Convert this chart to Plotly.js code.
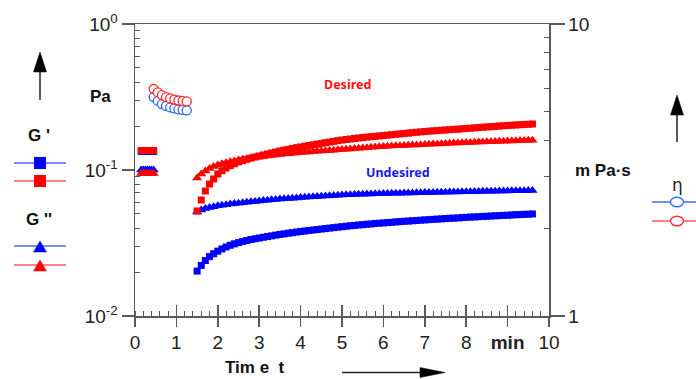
<!DOCTYPE html>
<html>
<head>
<meta charset="utf-8">
<script src="https://cdn.plot.ly/plotly-3.0.1.min.js"></script>
<style>html,body{margin:0;padding:0;background:#fff;}#chart{width:696px;height:379px;}</style>
</head>
<body>
<div id="chart"></div>
<script>
// ---------- data ----------
// early measurement block (min)
const tEarly = [0.15, 0.2, 0.25, 0.3, 0.35, 0.4, 0.45];
const gpUndEarly = [0.134, 0.134, 0.134, 0.134, 0.134, 0.134, 0.134];   // G' undesired, Pa
const gpDesEarly = [0.136, 0.136, 0.136, 0.136, 0.136, 0.136, 0.136];   // G' desired, Pa
const gppUndEarly = [0.100, 0.100, 0.100, 0.100, 0.100, 0.100, 0.100];  // G'' undesired, Pa
const gppDesEarly = [0.0946, 0.0946, 0.0946, 0.0946, 0.0946, 0.0946, 0.0946]; // G'' desired, Pa

// viscosity block (min, mPa·s)
const tEta = [0.45, 0.55, 0.65, 0.75, 0.85, 0.95, 1.05, 1.15, 1.25];
const etaUnd = [5.62, 5.45, 5.32, 5.24, 5.18, 5.14, 5.10, 5.08, 5.06];
const etaDes = [5.99, 5.83, 5.71, 5.62, 5.56, 5.51, 5.47, 5.45, 5.43];

// main time sweep (min)
const tMain = [1.5,1.6,1.7,1.8,1.9,2.0,2.1,2.2,2.3,2.4,2.5,2.6,2.7,2.8,2.9,3.0,3.1,3.2,3.3,3.4,3.5,3.6,3.7,3.8,3.9,4.0,4.1,4.2,4.3,4.4,4.5,4.6,4.7,4.8,4.9,5.0,5.1,5.2,5.3,5.4,5.5,5.6,5.7,5.8,5.9,6.0,6.1,6.2,6.3,6.4,6.5,6.6,6.7,6.8,6.9,7.0,7.1,7.2,7.3,7.4,7.5,7.6,7.7,7.8,7.9,8.0,8.1,8.2,8.3,8.4,8.5,8.6,8.7,8.8,8.9,9.0,9.1,9.2,9.3,9.4,9.5,9.6];
const gpUnd = [0.0203,0.0222,0.0240,0.0255,0.0267,0.0278,0.0288,0.0297,0.0305,0.0312,0.0318,0.0324,0.0329,0.0334,0.0338,0.0342,0.0346,0.0350,0.0354,0.0358,0.0362,0.0365,0.0369,0.0372,0.0376,0.0379,0.0382,0.0385,0.0388,0.0391,0.0394,0.0397,0.0400,0.0403,0.0406,0.0409,0.0412,0.0415,0.0417,0.0420,0.0422,0.0425,0.0427,0.0430,0.0432,0.0434,0.0436,0.0438,0.0441,0.0443,0.0445,0.0447,0.0449,0.0451,0.0453,0.0455,0.0457,0.0459,0.0461,0.0463,0.0465,0.0467,0.0468,0.0470,0.0472,0.0474,0.0476,0.0477,0.0479,0.0481,0.0482,0.0484,0.0486,0.0487,0.0489,0.0490,0.0492,0.0494,0.0495,0.0497,0.0498,0.0500];
const gppUnd = [0.0516,0.0533,0.0545,0.0554,0.0561,0.0568,0.0574,0.0579,0.0584,0.0589,0.0593,0.0597,0.0601,0.0605,0.0609,0.0613,0.0617,0.0621,0.0625,0.0629,0.0632,0.0635,0.0638,0.0641,0.0644,0.0647,0.0650,0.0653,0.0656,0.0659,0.0661,0.0664,0.0667,0.0669,0.0672,0.0674,0.0676,0.0677,0.0679,0.0681,0.0682,0.0684,0.0685,0.0687,0.0688,0.0690,0.0691,0.0692,0.0693,0.0694,0.0695,0.0696,0.0697,0.0698,0.0699,0.0700,0.0701,0.0702,0.0703,0.0704,0.0705,0.0706,0.0707,0.0708,0.0709,0.0710,0.0711,0.0712,0.0713,0.0714,0.0714,0.0715,0.0716,0.0717,0.0718,0.0719,0.0720,0.0720,0.0721,0.0722,0.0723,0.0724];
const gpDes = [0.0524,0.0623,0.0718,0.0802,0.0868,0.0939,0.0988,0.1032,0.1070,0.1104,0.1135,0.1160,0.1183,0.1205,0.1226,0.1247,0.1268,0.1288,0.1308,0.1328,0.1349,0.1367,0.1385,0.1403,0.1421,0.1438,0.1455,0.1471,0.1488,0.1504,0.1520,0.1537,0.1554,0.1571,0.1588,0.1604,0.1617,0.1630,0.1644,0.1657,0.1670,0.1680,0.1691,0.1701,0.1712,0.1722,0.1733,0.1744,0.1756,0.1767,0.1778,0.1790,0.1801,0.1813,0.1824,0.1836,0.1845,0.1853,0.1862,0.1870,0.1879,0.1888,0.1897,0.1905,0.1914,0.1923,0.1933,0.1943,0.1953,0.1962,0.1972,0.1981,0.1990,0.2000,0.2009,0.2018,0.2026,0.2034,0.2042,0.2049,0.2057,0.2065];
const gppDes = [0.0882,0.0939,0.0985,0.1024,0.1055,0.1082,0.1102,0.1120,0.1137,0.1154,0.1171,0.1183,0.1195,0.1206,0.1217,0.1227,0.1237,0.1247,0.1257,0.1267,0.1277,0.1285,0.1293,0.1302,0.1310,0.1318,0.1324,0.1330,0.1337,0.1343,0.1349,0.1355,0.1362,0.1368,0.1375,0.1381,0.1388,0.1395,0.1401,0.1408,0.1415,0.1422,0.1429,0.1435,0.1442,0.1449,0.1454,0.1458,0.1463,0.1467,0.1472,0.1477,0.1481,0.1486,0.1490,0.1495,0.1500,0.1505,0.1509,0.1514,0.1519,0.1524,0.1529,0.1533,0.1538,0.1543,0.1546,0.1550,0.1553,0.1557,0.1560,0.1564,0.1568,0.1572,0.1576,0.1580,0.1583,0.1587,0.1590,0.1593,0.1597,0.1600];

// tick labels
const xTickVals = [0,1,2,3,4,5,6,7,8,9,10];
const xTickText = ['0','1','2','3','4','5','6','7','8','<b>min</b>','10'];
const yTickVals = [0.01, 0.1, 1];
const yTickText = ['10<sup>-2</sup>','10<sup>-1</sup>','10<sup>0</sup>'];
const y2TickVals = [1, 10];
const y2TickText = ['1','10'];

// ---------- styling ----------
const BLUE = '#0000ff', RED = '#ff0000';
const BLUE_C = '#2f6bff', RED_C = '#ff2a2a';
const AX = '#5a5a5a';
const FONT = 'Liberation Sans, Arial, sans-serif';

function sq(color){ return {symbol:'square', size:7, color:color, line:{width:0}}; }
function tri(color){ return {symbol:'triangle-up', size:9, color:color, line:{width:0}}; }
function circ(color){ return {symbol:'circle', size:9, color:'#ffffff', line:{width:1.3, color:color}}; }

const traces = [
  {x: tEarly.concat(tMain), y: gpUndEarly.concat(gpUnd), mode:'markers', marker: sq(BLUE), xaxis:'x', yaxis:'y'},
  {x: tEarly.concat(tMain), y: gppUndEarly.concat(gppUnd), mode:'markers', marker: tri(BLUE), xaxis:'x', yaxis:'y'},
  {x: tEarly.concat(tMain), y: gppDesEarly.concat(gppDes), mode:'markers', marker: tri(RED), xaxis:'x', yaxis:'y'},
  {x: tEarly.concat(tMain), y: gpDesEarly.concat(gpDes), mode:'markers', marker: sq(RED), xaxis:'x', yaxis:'y'},
  {x: tEta, y: etaUnd, mode:'markers', marker: circ(BLUE_C), xaxis:'x', yaxis:'y2'},
  {x: tEta, y: etaDes, mode:'markers', marker: circ(RED_C), xaxis:'x', yaxis:'y2'},
  {x: [], y: [], mode:'markers', xaxis:'x2', yaxis:'y', hoverinfo:'skip'}
];

// pixel -> paper helpers for decorations
const PL = 135, PR = 549, PT = 24, PB = 316;
const X = px => (px - PL) / (PR - PL);
const Y = py => (PB - py) / (PB - PT);

function hline(x0, x1, y, color){
  return {type:'line', xref:'paper', yref:'paper', x0:X(x0), x1:X(x1), y0:Y(y), y1:Y(y), line:{color:color, width:1.3}};
}
function vline(x, y0, y1, color){
  return {type:'line', xref:'paper', yref:'paper', x0:X(x), x1:X(x), y0:Y(y0), y1:Y(y1), line:{color:color, width:1.5}};
}
function poly(pts, color){
  const d = pts.map((p,i)=> (i?'L':'M') + X(p[0]) + ',' + Y(p[1])).join(' ') + ' Z';
  return {type:'path', xref:'paper', yref:'paper', path:d, fillcolor:color, line:{color:color, width:0.5}};
}
function rect(cx, cy, w, h, color){
  return {type:'rect', xref:'paper', yref:'paper', x0:X(cx-w/2), x1:X(cx+w/2), y0:Y(cy+h/2), y1:Y(cy-h/2), fillcolor:color, line:{width:0}};
}
function ell(cx, cy, w, h, color){
  return {type:'circle', xref:'paper', yref:'paper', x0:X(cx-w/2), x1:X(cx+w/2), y0:Y(cy+h/2), y1:Y(cy-h/2), fillcolor:'#ffffff', line:{color:color, width:1.3}};
}

const LB = '#4a64ff', LR = '#ff5a5a';
const shapes = [
  // left up arrow
  vline(40, 100, 70, '#222'),
  poly([[33.5,72],[46.5,72],[40,52]], '#000'),
  // G' legend
  hline(14, 66, 163, LB), rect(40, 163, 12, 12, BLUE),
  hline(14, 66, 181, LR), rect(40, 181, 12, 12, RED),
  // G'' legend
  hline(14, 66, 246, LB), poly([[33.5,252],[46.5,252],[40,241]], BLUE),
  hline(14, 66, 265, LR), poly([[33.5,271],[46.5,271],[40,260]], RED),
  // right up arrow
  vline(677, 142, 113, '#222'),
  poly([[670.5,115],[683.5,115],[677,95]], '#000'),
  // eta legend
  hline(652, 696, 202, LB), ell(677, 202, 13, 9.5, BLUE_C),
  hline(652, 696, 221, LR), ell(677, 221, 13, 9.5, RED_C),
  // bottom arrow
  hline(342, 424, 372.5, '#222'),
  poly([[420,367.5],[420,377.5],[445,372.5]], '#000')
];

function ann(text, px, py, size, color, family){
  return {xref:'paper', yref:'paper', x:X(px), y:Y(py), xanchor:'center', yanchor:'middle', showarrow:false,
          text:text, font:{family:family||FONT, size:size, color:color||'#111'}};
}
const annotations = [
  ann('<b>Pa</b>', 100, 96, 17),
  ann("<b>G '</b>", 39, 135, 17),
  ann("<b>G ''</b>", 39, 219, 17),
  ann('<b>m Pa·s</b>', 603, 170, 17),
  ann('η', 677, 185, 17, '#222', 'DejaVu Sans'),
  ann('<b>Tim e  t</b>', 255, 367, 17),
  ann('<b>Desired</b>', 347, 84, 12.5, '#ff1010', 'Noto Sans'),
  ann('<b>Undesired</b>', 398, 173, 12.5, '#1a1ae6', 'Noto Sans')
];

const layout = {
  width: 696, height: 379,
  margin: {l: PL, r: 696 - PR, t: PT, b: 379 - PB, pad: 0},
  paper_bgcolor: '#ffffff', plot_bgcolor: '#ffffff',
  showlegend: false,
  xaxis: {
    range: [0, 10], showgrid: false, zeroline: false,
    showline: true, linecolor: AX, linewidth: 1.5, mirror: true,
    ticks: 'outside', ticklen: 9, tickwidth: 1.5, tickcolor: AX,
    tickmode: 'array', tickvals: xTickVals, ticktext: xTickText,
    tickfont: {family: FONT, size: 19, color: '#222'},
    minor: {dtick: 0.2, tick0: 0, ticks: 'inside', ticklen: 5, tickwidth: 1, tickcolor: AX, showgrid: false}
  },
  xaxis2: {
    range: [0, 10], overlaying: 'x', anchor: 'y', side: 'bottom',
    showgrid: false, zeroline: false, showline: false, showticklabels: false,
    ticks: 'inside', ticklen: 11, tickwidth: 1.5, tickcolor: AX,
    tickmode: 'array', tickvals: xTickVals
  },
  yaxis: {
    type: 'log', range: [-2, 0], showgrid: false, zeroline: false,
    showline: true, linecolor: AX, linewidth: 1.5,
    ticks: 'outside', ticklen: 12, tickwidth: 1.5, tickcolor: AX,
    tickmode: 'array', tickvals: yTickVals, ticktext: yTickText,
    tickfont: {family: FONT, size: 19, color: '#222'},
    minor: {tickmode: 'array', tickvals: [0.02,0.03,0.04,0.05,0.06,0.07,0.08,0.09,0.2,0.3,0.4,0.5,0.6,0.7,0.8,0.9],
            ticks: 'inside', ticklen: 5, tickwidth: 1, tickcolor: AX, showgrid: false}
  },
  yaxis2: {
    type: 'log', range: [0, 1], overlaying: 'y', side: 'right', anchor: 'x',
    showgrid: false, zeroline: false,
    showline: true, linecolor: AX, linewidth: 1.5,
    ticks: 'outside', ticklen: 14, tickwidth: 1.5, tickcolor: AX,
    tickmode: 'array', tickvals: y2TickVals, ticktext: y2TickText,
    tickfont: {family: FONT, size: 19, color: '#222'},
    minor: {tickmode: 'array', tickvals: [2,3,4,5,6,7,8,9],
            ticks: 'inside', ticklen: 5, tickwidth: 1, tickcolor: AX, showgrid: false}
  },
  shapes: shapes,
  annotations: annotations
};

Plotly.newPlot('chart', traces, layout, {staticPlot: true, displayModeBar: false});
</script>
</body>
</html>
